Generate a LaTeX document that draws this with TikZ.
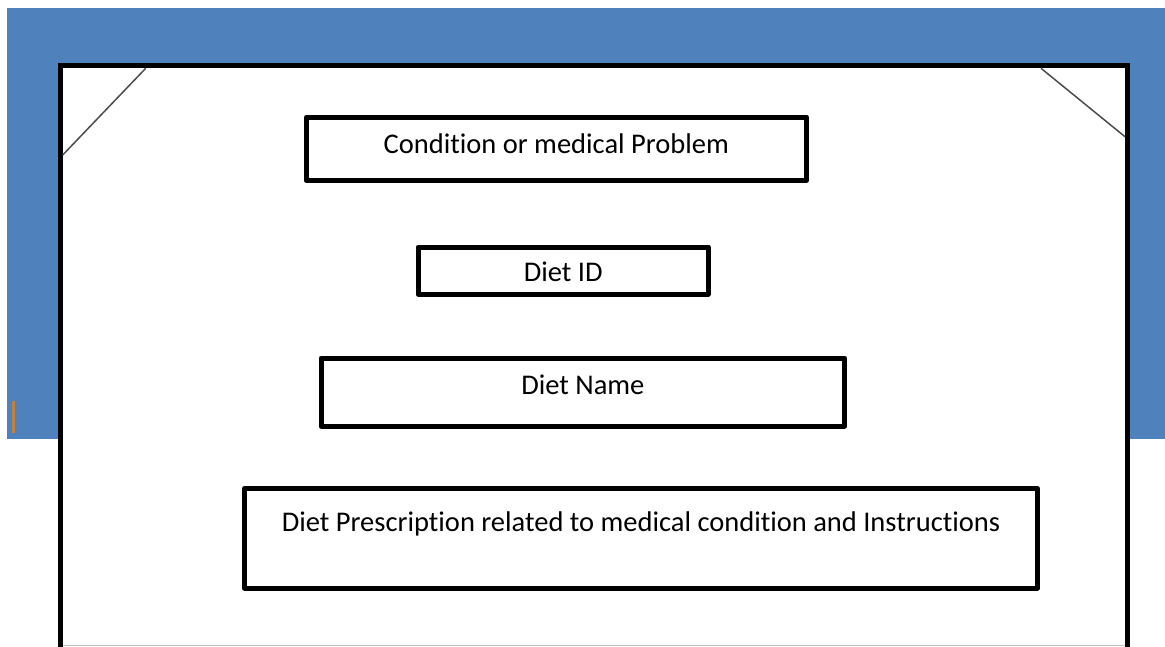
\documentclass[tikz,border=0pt]{standalone}
\usepackage{fontspec}
\setmainfont{Carlito}[Ligatures=NoCommon]
\definecolor{slideblue}{HTML}{4F81BD}
\definecolor{cursor}{HTML}{C0813F}
\tikzset{
  box/.style={draw=black, line width=5pt, line join=round, fill=white, inner sep=0pt,
    text height=30pt, font=\fontsize{28.5}{30}\selectfont},
  fold/.style={draw=black!70, line width=1.5pt}
}

\begin{document}
\begin{tikzpicture}[x=1pt, y=-1pt]
\useasboundingbox (0,0) rectangle (1165,646);
\clip (0,0) rectangle (1165,646);
\fill[white] (0,0) rectangle (1165,646);
\fill[slideblue] (7,8) rectangle (1165,439);
\fill[cursor] (11.7,400.7) rectangle (15.3,433.3);
\filldraw[fill=white, draw=black, line width=5pt] (60.5,700) -- (60.5,65.5) -- (1127.5,65.5) -- (1127.5,700);
\draw[black!25, line width=1pt] (63,645.5) -- (1125,645.5);
\draw[fold] (145.7,68.3) -- (62.7,155);
\draw[fold] (1041,68.3) -- (1125,136.7);
\node[box, minimum width=500pt, minimum height=63.5pt, text depth=20.9pt] (cond) at (556.3,148.75) {Condition or medical Problem};
\node[box, minimum width=290.3pt, minimum height=47pt, text depth=8pt] (dietid) at (563.2,270.5) {Diet ID};
\node[box, minimum width=523.7pt, minimum height=68pt, text depth=26pt] (dietname) at (582.85,392) {Diet Name};
\node[box, minimum width=793pt, minimum height=99.3pt, text depth=43.3pt] (prescr) at (641,538.35) {Diet Prescription related to medical condition and Instructions};
\end{tikzpicture}
\end{document}
